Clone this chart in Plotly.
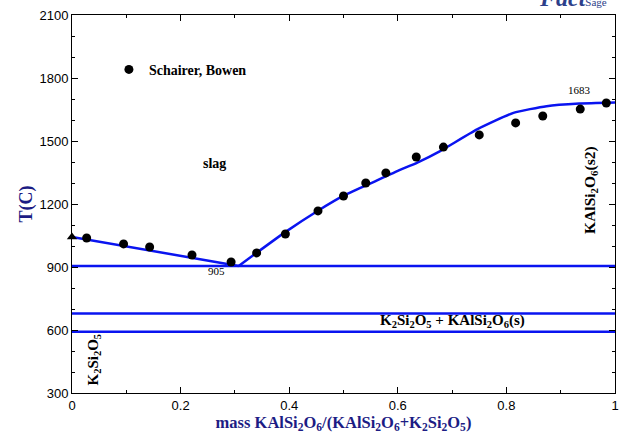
import plotly.graph_objects as go

# Experimental data (Schairer, Bowen)
exp_x = [0.027, 0.095, 0.143, 0.221, 0.293, 0.340, 0.393, 0.453, 0.500, 0.541,
         0.578, 0.634, 0.684, 0.750, 0.817, 0.867, 0.936, 0.984]
exp_T = [1038, 1010, 995, 957, 924, 967, 1057, 1167, 1238, 1300,
         1348, 1424, 1471, 1529, 1586, 1619, 1652, 1681]

# Melting point of K2Si2O5
tri_x = [0.0]
tri_T = [1043]

# Calculated liquidus: K2Si2O5 branch and KAlSi2O6 branch
liq1_x = [0.0, 0.1, 0.2, 0.307]
liq1_T = [1043, 998, 955, 905]
liq2_x = [0.307, 0.392, 0.453, 0.502, 0.56, 0.6, 0.636, 0.678,
          0.746, 0.813, 0.874, 0.934, 1.0]
liq2_T = [905, 1065, 1168, 1242, 1310, 1358, 1397, 1452,
          1555, 1634, 1666, 1678, 1683]

# Invariant / transition lines
iso_T = [905, 678, 592]

NAVY = "#1c1c84"
BLUE = "#0a14f0"
SERIF = "Liberation Serif"

fig = go.Figure()

fig.add_trace(go.Scatter(x=liq1_x, y=liq1_T, mode="lines",
                         line=dict(color=BLUE, width=2.5),
                         showlegend=False, hoverinfo="skip"))
fig.add_trace(go.Scatter(x=liq2_x, y=liq2_T, mode="lines",
                         line=dict(color=BLUE, width=2.5, shape="spline", smoothing=0.5),
                         showlegend=False, hoverinfo="skip"))
for t in iso_T:
    fig.add_trace(go.Scatter(x=[0, 1], y=[t, t], mode="lines",
                             line=dict(color=BLUE, width=2.5),
                             showlegend=False, hoverinfo="skip"))

fig.add_trace(go.Scatter(x=exp_x, y=exp_T, mode="markers", name="Schairer, Bowen",
                         marker=dict(color="black", size=9, symbol="circle")))
fig.add_trace(go.Scatter(x=tri_x, y=tri_T, mode="markers", showlegend=False,
                         marker=dict(color="black", size=9, symbol="triangle-up"),
                         cliponaxis=False))

axis_common = dict(showline=True, linecolor="black", linewidth=1, mirror="allticks",
                   ticks="inside", ticklen=6, tickcolor="black", showgrid=False,
                   zeroline=False,
                   tickfont=dict(family="Liberation Sans", size=13, color="black"))

fig.update_xaxes(range=[0, 1], tickvals=[0, 0.2, 0.4, 0.6, 0.8, 1],
                 ticktext=["0", "0.2", "0.4", "0.6", "0.8", "1"],
                 minor=dict(dtick=0.1, ticks="inside", ticklen=3, tickcolor="black"),
                 title=dict(text="<b>mass KAlSi<sub>2</sub>O<sub>6</sub>/(KAlSi<sub>2</sub>O<sub>6</sub>+K<sub>2</sub>Si<sub>2</sub>O<sub>5</sub>)</b>",
                            font=dict(family=SERIF, size=16.5, color=NAVY), standoff=2),
                 **axis_common)
fig.update_yaxes(range=[300, 2100], tickvals=[300, 600, 900, 1200, 1500, 1800, 2100],
                 minor=dict(dtick=100, ticks="inside", ticklen=3, tickcolor="black"),
                 title=dict(text="<b>T(C)</b>", font=dict(family=SERIF, size=18, color=NAVY),
                            standoff=2),
                 **axis_common)

def ann(text, x, y, size=14, bold=True, angle=0, **kw):
    t = f"<b>{text}</b>" if bold else text
    fig.add_annotation(text=t, x=x, y=y, xref="x", yref="y", showarrow=False,
                       textangle=angle, font=dict(family=SERIF, size=size, color="black"), **kw)

ann("slag", 0.263, 1394)
ann("905", 0.267, 880, size=11, bold=False)
ann("1683", 0.934, 1742, size=11, bold=False)
ann("K<sub>2</sub>Si<sub>2</sub>O<sub>5</sub> + KAlSi<sub>2</sub>O<sub>6</sub>(s)", 0.70, 642, size=15)
ann("KAlSi<sub>2</sub>O<sub>6</sub>(s2)", 0.955, 1265, angle=-90, size=15.5)
ann("K<sub>2</sub>Si<sub>2</sub>O<sub>5</sub>", 0.04, 458, angle=-90, size=15)

fig.add_annotation(text="<b><i>Fact</i></b><span style='font-size:11px'>Sage</span>",
                   xref="paper", yref="paper", x=1.0, y=1.0, xanchor="right", yanchor="bottom",
                   xshift=-6, yshift=2, showarrow=False,
                   font=dict(family=SERIF, size=24, color="#2d3f8a"))

fig.update_layout(
    width=623, height=434,
    margin=dict(l=72, r=4, t=15, b=41),
    paper_bgcolor="white", plot_bgcolor="white",
    legend=dict(x=0.068, y=0.855, xanchor="left", yanchor="middle",
                bgcolor="rgba(0,0,0,0)",
                font=dict(family=SERIF, size=14, color="black", weight="bold")),
)

fig.write_html("out.html")
